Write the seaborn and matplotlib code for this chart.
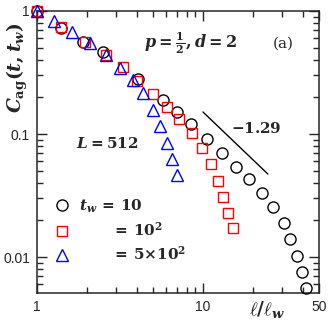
import numpy as np
import pandas as pd
import matplotlib
matplotlib.use("Agg")
import matplotlib.pyplot as plt
from matplotlib.ticker import NullFormatter, FixedLocator
import seaborn as sns

# data (log-log)
circ_x = [1, 1.395, 1.893, 2.498, 4.059, 5.741, 6.972, 8.467, 10.57, 13.02,
          15.81, 18.93, 22.67, 26.41, 30.76, 33.43, 36.84, 39.48, 41.74]
circ_y = [1, 0.727, 0.56, 0.464, 0.28, 0.189, 0.151, 0.1206, 0.0911, 0.0701,
          0.0539, 0.0431, 0.0331, 0.0255, 0.0189, 0.014, 0.0102, 0.00755, 0.0056]

sq_x = [1, 1.395, 1.946, 2.604, 3.297, 4.003, 4.998, 6.07, 7.168, 8.585,
        9.862, 11.17, 12.31, 13.2, 14.15, 15.16]
sq_y = [1, 0.741, 0.56, 0.439, 0.35, 0.27, 0.2114, 0.166, 0.1324, 0.1019,
        0.0769, 0.057, 0.0415, 0.0307, 0.0228, 0.0172]

tri_x = [1, 1.266, 1.625, 2.086, 2.604, 3.162, 3.787, 4.351, 4.998, 5.508,
         6.07, 6.506, 6.972]
tri_y = [1, 0.829, 0.675, 0.549, 0.439, 0.344, 0.275, 0.2154, 0.1567, 0.1161,
         0.0845, 0.0626, 0.0464]

labels = [r"$t_w\,=\,10$", r"$\quad\;\;\;\,=\,10^2$",
          r"$\quad\;\;\;\,=\,5{\times}10^2$"]

# guide line with slope -1.29
slope = -1.29
guide_x = np.array([10, 24.6])
guide_y0 = 0.151

sns.set_style("ticks")
plt.rcParams["font.family"] = ["Liberation Sans", "DejaVu Sans"]
plt.rcParams["mathtext.fontset"] = "custom"
plt.rcParams["mathtext.it"] = "DejaVu Serif:italic:bold"
plt.rcParams["mathtext.rm"] = "DejaVu Serif:bold"
plt.rcParams["mathtext.bf"] = "DejaVu Serif:bold"

fig = plt.figure(figsize=(3.32, 3.2), dpi=100)
ax = fig.add_axes([37 / 332, 1 - 293 / 320, 282 / 332, 282 / 320])

series = [
    (circ_x, circ_y, "o", "black", 8.0),
    (sq_x, sq_y, "s", "red", 6.6),
    (tri_x, tri_y, "^", "blue", 8.0),
]
handles = []
for (xs, ys, m, c, ms), lab in zip(series, labels):
    df = pd.DataFrame({"x": xs, "y": ys})
    sns.lineplot(data=df, x="x", y="y", ax=ax, marker=m, linestyle="",
                 mfc="none", mec=c, ms=ms, mew=1.0, sort=False,
                 estimator=None, clip_on=False, zorder=3)
    handles.append(ax.lines[-1])

gx = guide_x
gy = guide_y0 * (gx / gx[0]) ** slope
ax.plot(gx, gy, color="black", lw=1.0)

ax.set_xscale("log")
ax.set_yscale("log")
ax.set_xlim(1, 50)
ax.set_ylim(0.0051, 1)

ax.xaxis.set_major_locator(FixedLocator([1, 10, 50]))
ax.set_xticklabels(["1", "10", "50"])
ax.yaxis.set_major_locator(FixedLocator([0.01, 0.1, 1]))
ax.set_yticklabels(["0.01", "0.1", "1"])
ax.xaxis.set_minor_formatter(NullFormatter())
ax.yaxis.set_minor_formatter(NullFormatter())
ax.tick_params(which="both", direction="in", top=True, right=True,
               labelsize=10, width=1.0, pad=5)
ax.tick_params(which="major", length=7)
ax.tick_params(which="minor", length=4)
for sp in ax.spines.values():
    sp.set_linewidth(1.1)
    sp.set_visible(True)

ax.set_xlabel("")
ax.set_ylabel("")
ax.text(0.815, -0.058, r"$\ell/\ell_w$", transform=ax.transAxes,
        ha="center", va="center", fontsize=13.5)
ax.text(-0.068, 0.80, r"$C_{\mathrm{ag}}(t, t_w)$", transform=ax.transAxes,
        ha="center", va="center", rotation=90, fontsize=13.5)

ax.text(0.545, 0.885, r"$p = \frac{1}{2}, d = 2$", transform=ax.transAxes,
        ha="center", va="center", fontsize=11.5)
ax.text(0.875, 0.885, "(a)", transform=ax.transAxes, ha="center",
        va="center", fontsize=11, family="DejaVu Serif")
ax.text(0.25, 0.53, r"$L = 512$", transform=ax.transAxes,
        ha="center", va="center", fontsize=11)
ax.text(0.777, 0.585, r"$-1.29$", transform=ax.transAxes,
        ha="center", va="center", fontsize=11)

ax.legend(handles, labels, loc="lower left", bbox_to_anchor=(0.024, 0.068),
          frameon=False, fontsize=11, handlelength=1.0, handletextpad=0.6,
          labelspacing=0.4, borderpad=0.2)

fig.savefig("out.png", dpi=100)
